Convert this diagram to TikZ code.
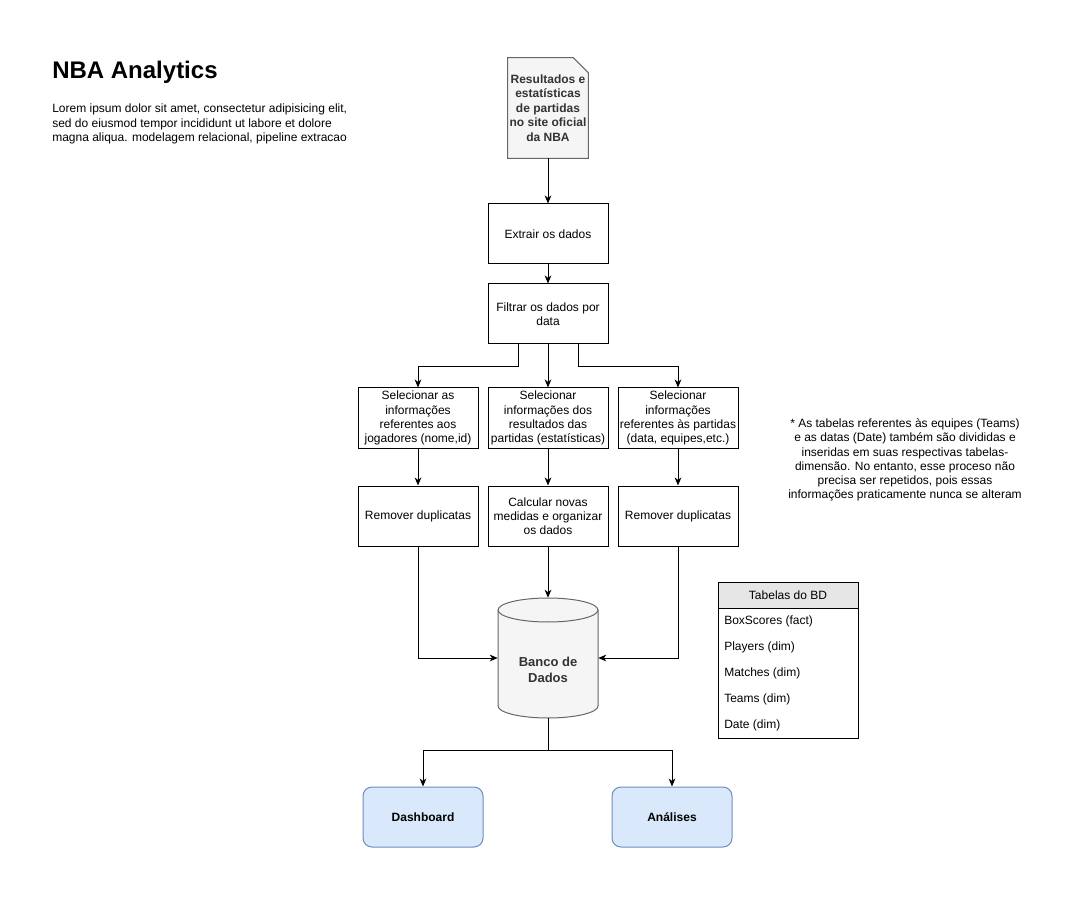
\documentclass[tikz,border=0pt]{standalone}
\usepackage{fontspec}
\setmainfont{Liberation Sans}
\usetikzlibrary{arrows.meta,calc}
\definecolor{bluefill}{HTML}{DAE8FC}
\definecolor{bluestroke}{HTML}{6C8EBF}
\definecolor{grayfill}{HTML}{F5F5F5}
\definecolor{graystroke}{HTML}{666666}
\definecolor{hdrfill}{HTML}{E6E6E6}
\definecolor{darktext}{HTML}{333333}
\begin{document}
\begin{tikzpicture}[x=0.75pt,y=-0.75pt,
  font=\fontsize{9}{10.6}\selectfont,
  box/.style={draw, line width=0.75pt, minimum width=90pt, minimum height=45pt, align=center, inner sep=1pt},
  endbox/.style={draw=bluestroke, fill=bluefill, line width=0.75pt, rounded corners=6.75pt, minimum width=90pt, minimum height=45pt, align=center, font=\fontsize{9}{10.6}\selectfont\bfseries},
  arr/.style={line width=0.75pt, -{Stealth[length=6pt,width=5pt,inset=1.8pt]}},
  item/.style={anchor=west, inner sep=0pt}
]
\useasboundingbox (0,0) rectangle (1067,898);

% title and description
\node[anchor=base west, inner sep=0pt, font=\fontsize{18}{21}\selectfont\bfseries] (title) at (52,79) {NBA Analytics};
\node[anchor=north west, inner sep=0pt, align=left] (lorem) at (52,104) {Lorem ipsum dolor sit amet, consectetur adipisicing elit,\\sed do eiusmod tempor incididunt ut labore et dolore\\magna aliqua. modelagem relacional, pipeline extracao};

% document source
\node[minimum width=60pt, minimum height=75pt, inner sep=0pt] (doc) at (548,108) {};
\path[draw=graystroke, fill=grayfill, line width=0.75pt] (doc.north west) -- ($(doc.north east)+(-15,0)$) -- ($(doc.north east)+(0,15)$) -- (doc.south east) -- (doc.south west) -- cycle;
\node[align=center, text=darktext, font=\fontsize{9}{10.9}\selectfont\bfseries] (doctext) at (doc.center) {Resultados e\\estatísticas\\de partidas\\no site oficial\\da NBA};

% pipeline boxes
\node[box] (extr) at (548,234) {Extrair os dados};
\node[box] (filt) at (548,314) {Filtrar os dados por\\data};
\node[box] (s1) at (418,418) {Selecionar as\\informações\\referentes aos\\jogadores (nome,id)};
\node[box] (s2) at (548,418) {Selecionar\\informações dos\\resultados das\\partidas (estatísticas)};
\node[box] (s3) at (678,418) {Selecionar\\informações\\referentes às partidas\\(data, equipes,etc.)};
\node[box] (r1) at (418,516) {Remover duplicatas};
\node[box] (r2) at (548,516) {Calcular novas\\medidas e organizar\\os dados};
\node[box] (r3) at (678,516) {Remover duplicatas};

% database cylinder
\node[minimum width=75pt, minimum height=90pt, inner sep=0pt] (db) at (548,658) {};
\path[draw=graystroke, fill=grayfill, line width=0.75pt] (498,610) -- (498,706) arc[start angle=180, end angle=360, x radius=37.5pt, y radius=9pt] -- (598,610) arc[start angle=0, end angle=180, x radius=37.5pt, y radius=9pt] -- cycle;
\draw[graystroke, line width=0.75pt] (498,610) arc[start angle=180, end angle=360, x radius=37.5pt, y radius=9pt];
\node[align=center, text=darktext, font=\fontsize{9.75}{12}\selectfont\bfseries] (dbtext) at (548,670) {Banco de\\Dados};

% outputs
\node[endbox] (dash) at (423,817) {Dashboard};
\node[endbox] (anal) at (672,817) {Análises};

% note
\node[align=center, inner sep=0pt] (note) at (905,460) {* As tabelas referentes às equipes (Teams)\\e as datas (Date) também são divididas e\\inseridas em suas respectivas tabelas-\\dimensão. No entanto, esse proceso não\\precisa ser repetidos, pois essas\\informações praticamente nunca se alteram};

% table
\node[draw, fill=hdrfill, line width=0.75pt, minimum width=105pt, minimum height=19.5pt, inner sep=0pt] (th) at (788,595) {Tabelas do BD};
\node[draw, line width=0.75pt, minimum width=105pt, minimum height=97.5pt, inner sep=0pt] (tb) at (788,673) {};
\node[item] (t1) at (724,621) {BoxScores (fact)};
\node[item] (t2) at (724,647) {Players (dim)};
\node[item] (t3) at (724,673) {Matches (dim)};
\node[item] (t4) at (724,699) {Teams (dim)};
\node[item] (t5) at (724,725) {Date (dim)};

% connectors
\coordinate (j1) at (418,367);
\coordinate (j3) at (678,367);
\coordinate (j4) at (548,750);
\draw[arr] (doc.south) -- (extr.north);
\draw[arr] (extr.south) -- (filt.north);
\draw[arr] ($(filt.south)+(-30,0)$) |- (j1) -- (s1.north);
\draw[arr] (filt.south) -- (s2.north);
\draw[arr] ($(filt.south)+(30,0)$) |- (j3) -- (s3.north);
\draw[arr] (s1.south) -- (r1.north);
\draw[arr] (s2.south) -- (r2.north);
\draw[arr] (s3.south) -- (r3.north);
\draw[arr] (r1.south) |- (db.west);
\draw[arr] (r2.south) -- (db.north);
\draw[arr] (r3.south) |- (db.east);
\draw[arr] (db.south) -- (j4) -| (dash.north);
\draw[arr] (j4) -| (anal.north);
\end{tikzpicture}
\end{document}
